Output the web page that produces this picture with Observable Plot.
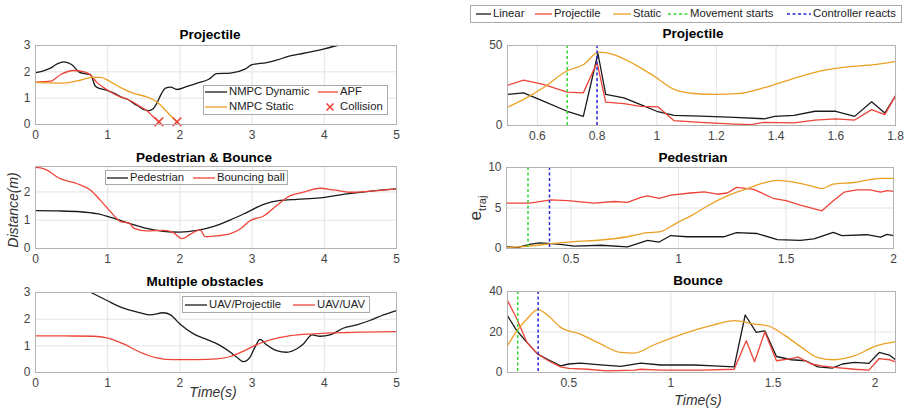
<!DOCTYPE html>
<html>
<head>
<meta charset="utf-8">
<script src="https://cdn.jsdelivr.net/npm/d3@7"></script>
<script src="https://cdn.jsdelivr.net/npm/@observablehq/plot@0.6"></script>
<style>
  body { margin: 0; background: #fff; font-family: "Liberation Sans", Arial, Helvetica, sans-serif; }
  #fig { position: relative; width: 912px; height: 411px; overflow: hidden; background: #fff; }
  #fig svg.plot { position: absolute; }
  .title { position: absolute; font-weight: bold; font-size: 13.5px; color: #000; white-space: nowrap; transform: translate(-50%, -50%); }
  .axlab { position: absolute; font-style: italic; font-size: 14px; color: #333; white-space: nowrap; transform: translate(-50%, -50%); }
  .ylab { position: absolute; white-space: nowrap; transform: translate(-50%, -50%) rotate(-90deg); color: #333; }
  .legend { position: absolute; background: #fff; border: 1px solid #aaa; box-sizing: border-box; }
  .ltext { position: absolute; font-size: 11.3px; color: #222; white-space: nowrap; line-height: 1; transform: translateY(-52%); }
  svg.sw { position: absolute; overflow: visible; }
</style>
</head>
<body>
<div id="fig"></div>
<script>
// ---------- Left column: distance to obstacles (m) over time (s) ----------
const leftXTicks = [0, 1, 2, 3, 4, 5];
const projYTicks = [0, 1, 2, 3];
const pedYTicks = [0, 1, 2];
const multiYTicks = [0, 1, 2, 3];

// Projectile
const projDynamic = [[0,1.97],[0.1,2.03],[0.2,2.13],[0.3,2.3],[0.39,2.38],[0.5,2.28],[0.6,2.0],[0.68,1.93],[0.76,1.9],[0.83,1.45],[0.9,1.36],[1.0,1.29],[1.1,1.17],[1.18,1.05],[1.28,0.95],[1.36,0.8],[1.45,0.65],[1.5,0.56],[1.57,0.53],[1.63,0.6],[1.68,0.8],[1.75,1.2],[1.8,1.38],[1.87,1.42],[1.96,1.33],[2.1,1.45],[2.24,1.57],[2.4,1.72],[2.51,1.93],[2.7,1.95],[2.9,2.1],[3.0,2.27],[3.2,2.35],[3.35,2.45],[3.5,2.59],[3.65,2.67],[3.8,2.75],[4.0,2.87],[4.18,3.0]];
const projAPF = [[0,1.61],[0.21,1.65],[0.35,1.9],[0.53,2.05],[0.69,1.99],[0.76,1.88],[0.85,1.6],[0.99,1.32],[1.13,1.1],[1.31,0.91],[1.45,0.68],[1.54,0.53],[1.62,0.32],[1.71,0.1]];
const projStatic = [[0,1.6],[0.2,1.58],[0.39,1.57],[0.62,1.68],[0.81,1.8],[0.9,1.79],[1.04,1.62],[1.18,1.4],[1.36,1.18],[1.54,1.05],[1.68,0.86],[1.78,0.6],[1.87,0.34],[1.96,0.1]];
const collisions = [[1.71,0.1],[1.96,0.1]];

// Pedestrian & Bounce
const pedestrian = [[0,1.34],[0.3,1.33],[0.62,1.3],[0.85,1.23],[1.08,1.07],[1.31,0.88],[1.54,0.71],[1.77,0.61],[2.0,0.58],[2.24,0.64],[2.47,0.78],[2.7,1.01],[2.93,1.28],[3.16,1.56],[3.39,1.7],[3.62,1.74],[3.94,1.79],[4.31,1.93],[4.68,2.04],[5,2.11]];
const bouncingBall = [[0,2.87],[0.12,2.82],[0.35,2.46],[0.58,2.29],[0.76,2.07],[0.9,1.7],[1.04,1.3],[1.18,0.95],[1.3,0.9],[1.36,0.72],[1.54,0.62],[1.77,0.64],[1.91,0.56],[2.03,0.35],[2.14,0.5],[2.28,0.66],[2.35,0.42],[2.47,0.44],[2.7,0.53],[2.84,0.7],[2.97,0.98],[3.16,1.15],[3.34,1.52],[3.53,1.87],[3.71,1.99],[3.94,2.13],[4.13,2.07],[4.36,1.99],[4.68,2.04],[5,2.11]];

// Multiple obstacles
const uavProjectile = [[0.77,3.0],[0.99,2.7],[1.22,2.41],[1.45,2.24],[1.59,2.16],[1.77,2.24],[1.87,2.16],[2.0,1.82],[2.19,1.45],[2.37,1.24],[2.56,1.01],[2.7,0.76],[2.79,0.57],[2.88,0.41],[2.97,0.57],[3.04,0.95],[3.11,1.24],[3.2,1.04],[3.34,0.82],[3.48,0.76],[3.62,0.89],[3.71,1.07],[3.83,1.41],[3.94,1.36],[4.08,1.41],[4.26,1.66],[4.45,1.79],[4.63,1.95],[4.82,2.16],[5,2.32]];
const uavUav = [[0,1.37],[0.4,1.37],[0.8,1.36],[0.99,1.3],[1.22,1.07],[1.45,0.76],[1.68,0.55],[1.91,0.48],[2.24,0.48],[2.51,0.51],[2.7,0.6],[2.88,0.8],[3.07,1.05],[3.25,1.22],[3.53,1.38],[3.85,1.45],[4.31,1.5],[5,1.53]];

// ---------- Right column: trajectory error e_traj over time (s) ----------
const ptXTicks = [0.6, 0.8, 1, 1.2, 1.4, 1.6, 1.8];
const ptYTicks = [0, 50];
const ptLinear = [[0.5,19.4],[0.554,20.4],[0.62,15.2],[0.7,8.9],[0.754,5.7],[0.803,45],[0.829,19.4],[0.89,17.3],[0.946,13.1],[1.0,8.9],[1.058,6.3],[1.147,5.8],[1.26,5.1],[1.36,4.2],[1.395,5.7],[1.46,6.3],[1.53,8.9],[1.6,8.9],[1.663,5.7],[1.72,14.8],[1.764,7.8],[1.8,18.5]];
const ptProjectile = [[0.5,25.1],[0.554,28.3],[0.62,25.7],[0.7,20.9],[0.754,20.4],[0.8,39.4],[0.829,14.6],[0.89,13.7],[0.946,12.0],[1.005,11.6],[1.058,3.0],[1.147,2.0],[1.26,0.9],[1.316,0.5],[1.36,2.0],[1.46,1.7],[1.53,3.4],[1.6,4.2],[1.663,3.4],[1.72,9.9],[1.764,6.8],[1.8,18.5]];
const ptStatic = [[0.5,11.4],[0.554,16.3],[0.62,23.6],[0.7,34.2],[0.754,38.0],[0.806,45.8],[0.856,44.3],[0.924,38.4],[0.99,31.0],[1.058,22.6],[1.125,20.0],[1.2,19.4],[1.27,19.9],[1.36,23.6],[1.46,29.5],[1.55,34.2],[1.64,36.7],[1.73,38.0],[1.8,40.1]];
const ptEvents = { start: 0.7, react: 0.8 };

const pdXTicks = [0.5, 1, 1.5, 2];
const pdYTicks = [0, 5, 10];
const pdLinear = [[0.2,0.2],[0.25,0.1],[0.307,0.5],[0.353,0.7],[0.407,0.6],[0.45,0.5],[0.515,0.3],[0.64,0.4],[0.763,0.2],[0.856,1.0],[0.91,0.8],[0.964,1.6],[1.04,1.45],[1.21,1.45],[1.27,1.95],[1.366,1.85],[1.46,1.1],[1.567,1.0],[1.63,1.2],[1.72,2.0],[1.76,1.6],[1.876,1.7],[1.94,1.4],[1.97,1.75],[2.0,1.6]];
const pdProjectile = [[0.2,5.6],[0.307,5.6],[0.407,6.0],[0.485,5.9],[0.608,5.6],[0.7,5.8],[0.763,5.7],[0.825,6.3],[0.856,6.5],[0.91,6.2],[0.964,6.6],[1.056,6.85],[1.12,7.0],[1.18,6.7],[1.227,6.85],[1.27,7.55],[1.35,7.3],[1.44,6.2],[1.5,5.9],[1.567,5.35],[1.667,4.65],[1.72,5.9],[1.77,6.95],[1.83,7.25],[1.89,7.25],[1.94,6.95],[1.97,7.15],[2.0,7.05]];
const pdStatic = [[0.2,0.1],[0.307,0.3],[0.407,0.6],[0.515,0.85],[0.64,1.05],[0.763,1.45],[0.856,1.95],[0.91,2.05],[0.995,3.2],[1.056,4.0],[1.134,5.25],[1.227,6.5],[1.32,7.4],[1.397,8.1],[1.46,8.4],[1.536,8.2],[1.613,7.75],[1.667,7.4],[1.72,7.95],[1.814,8.15],[1.89,8.5],[1.94,8.65],[2.0,8.65]];
const pdEvents = { start: 0.3, react: 0.4 };

const bnXTicks = [0.5, 1, 1.5, 2];
const bnYTicks = [0, 20, 40];
const bnLinear = [[0.2,28],[0.246,20.6],[0.295,14.9],[0.348,9.1],[0.4,6.3],[0.46,3.3],[0.5,4.2],[0.557,4.6],[0.656,3.8],[0.754,3.0],[0.853,4.6],[0.95,3.7],[1.115,3.7],[1.21,3.3],[1.31,2.8],[1.364,28.4],[1.418,19.8],[1.46,20.6],[1.517,7.9],[1.59,6.3],[1.66,5.8],[1.72,2.8],[1.79,2.2],[1.84,4.2],[1.9,5.0],[1.97,4.5],[2.02,9.9],[2.07,8.6],[2.1,6.3]];
const bnProjectile = [[0.2,35.5],[0.246,26.4],[0.295,14.9],[0.348,9.1],[0.4,5.8],[0.46,2.8],[0.5,2.0],[0.59,1.6],[0.688,0.8],[0.82,1.2],[0.853,1.6],[0.95,1.2],[1.15,1.2],[1.31,1.6],[1.369,15.7],[1.41,5.3],[1.46,20.1],[1.517,5.8],[1.59,6.8],[1.623,7.6],[1.688,4.2],[1.738,3.3],[1.8,2.5],[1.9,1.6],[1.97,1.2],[2.02,6.9],[2.07,6.3],[2.1,5.3]];
const bnStatic = [[0.2,13.2],[0.246,20.6],[0.295,26.4],[0.348,31.0],[0.4,28],[0.46,22.3],[0.557,19.0],[0.656,14.1],[0.754,9.9],[0.82,9.6],[0.918,13.7],[1.082,19.8],[1.21,23.5],[1.31,25.6],[1.41,23.9],[1.476,23.0],[1.559,18.2],[1.64,12.4],[1.72,7.4],[1.8,6.3],[1.9,8.3],[2.0,12.9],[2.1,15.2]];
const bnEvents = { start: 0.25, react: 0.35 };

// ---------- styling ----------
const C = { black: "#1a1a1a", red: "#ee4438", orange: "#eba024", green: "#33d633", blue: "#2a2ad8", grid: "#e3e3e3", frame: "#b3b3b3", tick: "#444" };
const FONT = '"Liberation Sans", Arial, Helvetica, sans-serif';
const fig = document.getElementById("fig");

const line = (data, color, curve = "linear") =>
  Plot.line(data, { x: d => d[0], y: d => d[1], stroke: color, strokeWidth: 1.3, curve });
const event = (x, color) =>
  Plot.ruleX([x], { stroke: color, strokeWidth: 1.5, strokeDasharray: "3,2.5" });

// One axes box; (fx0,fy0)-(fx1,fy1) is the plotting frame in page pixels.
function panel({ fx0, fx1, fy0, fy1, xDomain, yDomain, xTicks, yTicks, marks }) {
  const mL = 40, mR = 10, mT = 4, mB = 22;
  const svg = Plot.plot({
    width: fx1 - fx0 + mL + mR,
    height: fy1 - fy0 + mT + mB,
    marginLeft: mL, marginRight: mR, marginTop: mT, marginBottom: mB,
    x: { domain: xDomain, label: null },
    y: { domain: yDomain, label: null },
    style: { fontFamily: FONT, fontSize: "12px", color: C.tick, background: "transparent", overflow: "visible" },
    marks: [
      Plot.gridX(xTicks, { stroke: C.grid, strokeOpacity: 1 }),
      Plot.gridY(yTicks, { stroke: C.grid, strokeOpacity: 1 }),
      ...marks,
      Plot.frame({ stroke: C.frame }),
      Plot.axisX(xTicks, { tickSize: 0, tickPadding: 6, label: null, tickFormat: d => String(d) }),
      Plot.axisY(yTicks, { tickSize: 0, tickPadding: 5, label: null })
    ]
  });
  svg.classList.add("plot");
  svg.style.left = (fx0 - mL) + "px";
  svg.style.top = (fy0 - mT) + "px";
  fig.appendChild(svg);
}

// ---------- left column ----------
panel({ fx0: 35, fx1: 396, fy0: 45, fy1: 124, xDomain: [0, 5], yDomain: [0, 3], xTicks: leftXTicks, yTicks: projYTicks,
  marks: [
    line(projDynamic, C.black, "monotone-x"),
    line(projAPF, C.red, "monotone-x"),
    line(projStatic, C.orange, "monotone-x"),
    Plot.dot(collisions, { x: d => d[0], y: d => d[1], symbol: "times", r: 4, stroke: C.red, strokeWidth: 1.6 })
  ] });

panel({ fx0: 35, fx1: 396, fy0: 166, fy1: 248, xDomain: [0, 5], yDomain: [0, 2.9], xTicks: leftXTicks, yTicks: pedYTicks,
  marks: [
    line(pedestrian, C.black, "monotone-x"),
    line(bouncingBall, C.red, "monotone-x")
  ] });

panel({ fx0: 35, fx1: 396, fy0: 292, fy1: 372, xDomain: [0, 5], yDomain: [0, 3], xTicks: leftXTicks, yTicks: multiYTicks,
  marks: [
    line(uavProjectile, C.black, "monotone-x"),
    line(uavUav, C.red, "monotone-x")
  ] });

// ---------- right column ----------
panel({ fx0: 507, fx1: 895, fy0: 45, fy1: 125, xDomain: [0.5, 1.8], yDomain: [0, 50], xTicks: ptXTicks, yTicks: ptYTicks,
  marks: [
    line(ptLinear, C.black), line(ptProjectile, C.red), line(ptStatic, C.orange, "monotone-x"),
    event(ptEvents.start, C.green), event(ptEvents.react, C.blue)
  ] });

panel({ fx0: 506, fx1: 893, fy0: 167, fy1: 248, xDomain: [0.2, 2], yDomain: [0, 10], xTicks: pdXTicks, yTicks: pdYTicks,
  marks: [
    line(pdLinear, C.black), line(pdProjectile, C.red), line(pdStatic, C.orange, "monotone-x"),
    event(pdEvents.start, C.green), event(pdEvents.react, C.blue)
  ] });

panel({ fx0: 507, fx1: 895, fy0: 291, fy1: 372, xDomain: [0.2, 2.1], yDomain: [0, 40], xTicks: bnXTicks, yTicks: bnYTicks,
  marks: [
    line(bnLinear, C.black), line(bnProjectile, C.red), line(bnStatic, C.orange, "monotone-x"),
    event(bnEvents.start, C.green), event(bnEvents.react, C.blue)
  ] });

// ---------- titles and axis labels ----------
function html(cls, x, y, content, extra = "") {
  const d = document.createElement("div");
  d.className = cls;
  d.style.left = x + "px";
  d.style.top = y + "px";
  if (extra) d.style.cssText += extra;
  d.innerHTML = content;
  fig.appendChild(d);
  return d;
}
html("title", 210, 34, "Projectile");
html("title", 204, 157, "Pedestrian &amp; Bounce");
html("title", 205, 281, "Multiple obstacles");
html("title", 693, 33, "Projectile");
html("title", 693, 157, "Pedestrian");
html("title", 698, 280, "Bounce");
html("axlab", 213, 392, "Time(s)");
html("axlab", 698, 400, "Time(s)");
html("ylab", 13, 210, "Distance(m)", "font-style:italic;font-size:14px;");
html("ylab", 476, 208, 'e<span style="font-size:11px;position:relative;top:5px">traj</span>', "font-size:17px;");

// ---------- legends ----------
function swatch(x0, x1, y, color, dash) {
  const s = document.createElementNS("http://www.w3.org/2000/svg", "svg");
  s.setAttribute("class", "sw");
  s.setAttribute("width", x1 - x0); s.setAttribute("height", 4);
  s.style.left = x0 + "px"; s.style.top = (y - 2) + "px";
  const l = document.createElementNS("http://www.w3.org/2000/svg", "line");
  l.setAttribute("x1", 0); l.setAttribute("x2", x1 - x0); l.setAttribute("y1", 2); l.setAttribute("y2", 2);
  l.setAttribute("stroke", color); l.setAttribute("stroke-width", dash ? 1.5 : 1.3);
  if (dash) l.setAttribute("stroke-dasharray", dash);
  s.appendChild(l);
  fig.appendChild(s);
}
function cross(x, y, color) {
  const s = document.createElementNS("http://www.w3.org/2000/svg", "svg");
  s.setAttribute("class", "sw");
  s.setAttribute("width", 10); s.setAttribute("height", 10);
  s.style.left = (x - 5) + "px"; s.style.top = (y - 5) + "px";
  s.innerHTML = `<path d="M1.5,1.5L8.5,8.5M8.5,1.5L1.5,8.5" stroke="${color}" stroke-width="1.6"/>`;
  fig.appendChild(s);
}
function box(x0, x1, y0, y1) {
  html("legend", x0, y0, "", `width:${x1 - x0}px;height:${y1 - y0}px;`);
}
function entry(x0, x1, tx, y, color, label, dash) {
  swatch(x0, x1, y, color, dash);
  html("ltext", tx, y, label);
}

box(203, 388, 85, 115);
entry(205, 227, 229, 92, C.black, "NMPC Dynamic");
entry(318, 338, 340, 92, C.red, "APF");
entry(205, 227, 229, 107, C.orange, "NMPC Static");
cross(330, 107, C.red);
html("ltext", 340, 107, "Collision");

box(105, 288, 170, 185);
entry(107, 128, 130, 178, C.black, "Pedestrian");
entry(193, 215, 217, 178, C.red, "Bouncing ball");

box(182, 370, 296, 313);
entry(185, 207, 209, 304.5, C.black, "UAV/Projectile");
entry(293, 315, 317, 304.5, C.red, "UAV/UAV");

box(470, 902, 5, 23);
entry(476, 491, 493, 14, C.black, "Linear");
entry(535, 552, 554, 14, C.red, "Projectile");
entry(613, 631, 633, 14, C.orange, "Static");
entry(668, 688, 690, 14, C.green, "Movement starts", "3,2.5");
entry(787, 811, 813, 14, C.blue, "Controller reacts", "3,2.5");
</script>
</body>
</html>
